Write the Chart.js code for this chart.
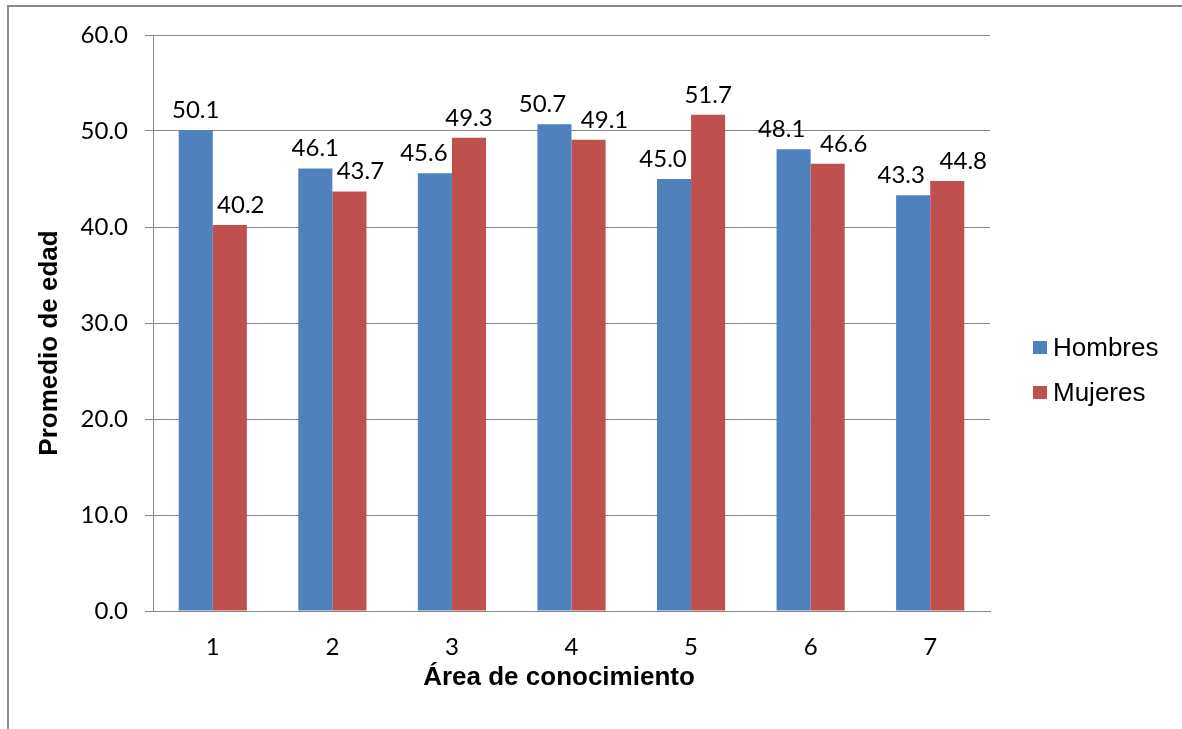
<!DOCTYPE html>
<html>
<head>
<meta charset="utf-8">
<script src="https://cdn.jsdelivr.net/npm/chart.js@4.4.1/dist/chart.umd.min.js"></script>
<style>
  html, body { margin: 0; padding: 0; background: #fff; overflow: hidden; }
  #wrap { position: relative; width: 1182px; height: 729px; }
  #frame {
    position: absolute; left: 7px; top: 5px; width: 1400px; height: 900px;
    border-left: 2px solid #8c8c8c; border-top: 2px solid #8c8c8c;
  }
  #myChart { position: absolute; left: 0; top: 0; }
  #legend {
    position: absolute; left: 1033px; top: 325px;
    font-family: "Liberation Sans", Arial, sans-serif; font-size: 26px; color: #000;
  }
  #legend .item { display: flex; align-items: center; height: 45px; }
  #legend .box { width: 14px; height: 13px; margin-right: 6px; }
</style>
</head>
<body>
<div id="wrap">
  <div id="frame"></div>
  <canvas id="myChart" width="1182" height="729"></canvas>
  <div id="legend"></div>
</div>
<script>
// datos del gráfico
const areas = ['1', '2', '3', '4', '5', '6', '7'];
const hombres = [50.1, 46.1, 45.6, 50.7, 45.0, 48.1, 43.3];
const mujeres = [40.2, 43.7, 49.3, 49.1, 51.7, 46.6, 44.8];
const yTicks = [0, 10, 20, 30, 40, 50, 60];

const numFont = { family: 'Lato, "Open Sans", sans-serif', size: 24 };
const gridColor = '#868686';

// etiquetas de valor encima de cada barra
// se apartan hacia fuera cuando chocarían con la de la otra serie
const valueLabels = {
    id: 'valueLabels',
    afterDatasetsDraw(chart) {
        const ctx = chart.ctx;
        const sets = chart.data.datasets;
        ctx.save();
        ctx.font = numFont.size + 'px ' + numFont.family;
        ctx.fillStyle = '#000';
        ctx.textAlign = 'center';
        ctx.textBaseline = 'alphabetic';
        sets.forEach((ds, i) => {
            chart.getDatasetMeta(i).data.forEach((bar, j) => {
                const v = ds.data[j];
                const other = sets[1 - i].data[j];
                let dx = 0;
                if (Math.abs(v - other) < 1.7) dx = i === 0 ? -12 : 16;
                else if (v < other) dx = i === 0 ? -11 : 11;
                ctx.fillText(v.toFixed(1), bar.x + dx, bar.y - 12);
            });
        });
        ctx.restore();
    }
};

// títulos de los ejes
const axisTitles = {
    id: 'axisTitles',
    afterDraw(chart) {
        const ctx = chart.ctx;
        ctx.save();
        ctx.font = 'bold 26px "Liberation Sans", Arial, sans-serif';
        ctx.fillStyle = '#000';
        ctx.textAlign = 'center';
        ctx.textBaseline = 'alphabetic';
        ctx.fillText('Área de conocimiento', 559, 685);
        ctx.translate(57, 343);
        ctx.rotate(-Math.PI / 2);
        ctx.fillText('Promedio de edad', 0, 0);
        ctx.restore();
    }
};

document.addEventListener('DOMContentLoaded', () => {
    const ctx = document.getElementById('myChart');
    const chart = new Chart(ctx, {
        type: 'bar',
        data: {
            labels: areas,
            datasets: [{
                label: 'Hombres',
                data: hombres,
                backgroundColor: '#4F81BD',
            }, {
                label: 'Mujeres',
                data: mujeres,
                backgroundColor: '#C0504D',
            }]
        },
        options: {
            responsive: false,
            animation: false,
            layout: { padding: { top: 35, right: 192, left: 0, bottom: 0 } },
            datasets: {
                bar: { categoryPercentage: 0.57, barPercentage: 1.0 }
            },
            plugins: {
                legend: { display: false },
                tooltip: { enabled: false }
            },
            scales: {
                x: {
                    grid: { display: false },
                    border: { display: true, color: gridColor, width: 1 },
                    ticks: { color: '#000', font: numFont, padding: 14 },
                    afterFit(scale) { scale.height = 118; }
                },
                y: {
                    min: 0,
                    max: 60,
                    afterBuildTicks(scale) {
                        scale.ticks = yTicks.map(v => ({ value: v }));
                    },
                    grid: { color: gridColor, lineWidth: 1, tickLength: 8 },
                    border: { display: true, color: gridColor, width: 1 },
                    ticks: {
                        color: '#000', font: numFont, padding: 17,
                        callback: v => Number(v).toFixed(1)
                    },
                    afterFit(scale) { scale.width = 153; }
                }
            }
        },
        plugins: [valueLabels, axisTitles]
    });

    // leyenda a la derecha
    const legend = document.getElementById('legend');
    chart.data.datasets.forEach(ds => {
        const item = document.createElement('div');
        item.className = 'item';
        item.innerHTML = '<span class="box" style="background:' + ds.backgroundColor + '"></span>' + ds.label;
        legend.appendChild(item);
    });
});
</script>
</body>
</html>
